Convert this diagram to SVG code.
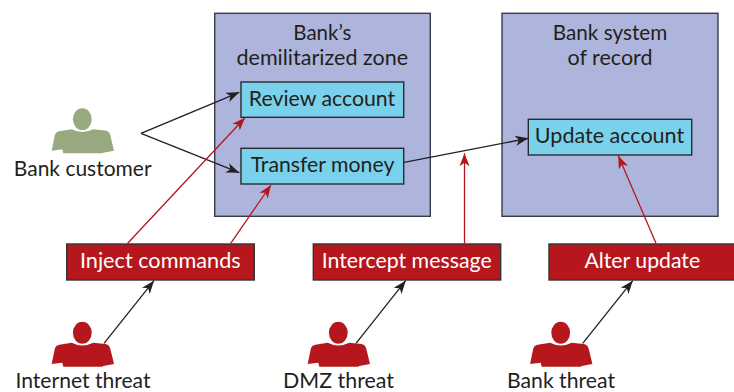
<svg xmlns="http://www.w3.org/2000/svg" width="734" height="392" viewBox="0 0 734 392">
<style>
text{font-family:Lato,"Open Sans","Liberation Sans",sans-serif;font-size:20.5px;fill:#231f20;text-anchor:middle}
.zone{fill:#aeb5dc;stroke:#3a3a48;stroke-width:1.4}
.task{fill:#7ad1ec;stroke:#2a2a30;stroke-width:1.4}
.threat{fill:#b5171d;stroke:#333;stroke-width:1.4}
.threat-label{fill:#fff}
.k{fill:none;stroke:#231f20;stroke-width:1.3}
.r{fill:none;stroke:#b5171d;stroke-width:1.3}
</style>
<defs>
<marker id="ak" markerUnits="userSpaceOnUse" viewBox="-14 -6 15 12" refX="0" refY="0" markerWidth="15" markerHeight="12" orient="auto"><path d="M0,0L-13,-5L-9.5,0L-13,5Z" fill="#231f20"/></marker>
<marker id="ar" markerUnits="userSpaceOnUse" viewBox="-14 -6 15 12" refX="0" refY="0" markerWidth="15" markerHeight="12" orient="auto"><path d="M0,0L-13,-5L-9.5,0L-13,5Z" fill="#b5171d"/></marker>
<g id="person">
<ellipse cx="0" cy="0" rx="9.4" ry="11"/>
<path d="M-30.6,31.4L-27.5,16Q-26.5,12.5-23,12L-10.6,10Q0,15.5 11,10L23,11.2Q27,12 28,16L31.7,31.4L21,33.4L20,34L-19,34L-20,30Z"/>
</g>
</defs>
<g id="zone-dmz"><rect class="zone" x="214.7" y="13.3" width="215.6" height="203"/>
<text x="322.3" y="40" textLength="58" lengthAdjust="spacingAndGlyphs">Bank’s</text>
<text x="322.3" y="65" textLength="171.7" lengthAdjust="spacingAndGlyphs">demilitarized zone</text></g>
<g id="zone-record"><rect class="zone" x="502" y="13.3" width="216" height="203"/>
<text x="610" y="40" textLength="114.7" lengthAdjust="spacingAndGlyphs">Bank system</text>
<text x="610" y="65" textLength="85" lengthAdjust="spacingAndGlyphs">of record</text></g>
<g id="review-account"><rect class="task" x="241" y="82" width="162.7" height="35.3"/>
<text x="322" y="106" textLength="146.3" lengthAdjust="spacingAndGlyphs">Review account</text></g>
<g id="transfer-money"><rect class="task" x="241" y="148.3" width="162.7" height="35.7"/>
<text x="322.5" y="171.7" textLength="143.7" lengthAdjust="spacingAndGlyphs">Transfer money</text></g>
<g id="update-account"><rect class="task" x="528.3" y="119.3" width="163.4" height="35.7"/>
<text x="609.5" y="142.7" textLength="149.3" lengthAdjust="spacingAndGlyphs">Update account</text></g>
<g id="inject-commands"><rect class="threat" x="66.7" y="244" width="187.6" height="36"/>
<text class="threat-label" x="160.3" y="267.7" textLength="160.7" lengthAdjust="spacingAndGlyphs">Inject commands</text></g>
<g id="intercept-message"><rect class="threat" x="313.3" y="244" width="187.4" height="36"/>
<text class="threat-label" x="406.7" y="267.7" textLength="170" lengthAdjust="spacingAndGlyphs">Intercept message</text></g>
<g id="alter-update"><rect class="threat" x="549" y="244" width="188" height="36"/>
<text class="threat-label" x="642.3" y="267.7" textLength="115.7" lengthAdjust="spacingAndGlyphs">Alter update</text></g>
<g id="bank-customer"><use href="#person" x="82.3" y="119.3" fill="#98a97f"/>
<text x="82.7" y="176" textLength="137.7" lengthAdjust="spacingAndGlyphs">Bank customer</text></g>
<g id="internet-threat"><use href="#person" x="82.3" y="332.7" fill="#b5171d"/>
<text x="83" y="387.5" textLength="135" lengthAdjust="spacingAndGlyphs">Internet threat</text></g>
<g id="dmz-threat"><use href="#person" x="338.3" y="332.7" fill="#b5171d"/>
<text x="338.5" y="387.5" textLength="111" lengthAdjust="spacingAndGlyphs">DMZ threat</text></g>
<g id="bank-threat"><use href="#person" x="560.7" y="332.7" fill="#b5171d"/>
<text x="561" y="387.5" textLength="108" lengthAdjust="spacingAndGlyphs">Bank threat</text></g>
<g id="connectors">
<path class="k" marker-end="url(#ak)" d="M141,133.3L239.3,92.3"/>
<path class="k" marker-end="url(#ak)" d="M141,133.3L239.3,172.7"/>
<path class="k" marker-end="url(#ak)" d="M404,162.3L528.3,138.3"/>
<path class="k" marker-end="url(#ak)" d="M104,343.3L154,280.7"/>
<path class="k" marker-end="url(#ak)" d="M356,343.3L405.7,280.7"/>
<path class="k" marker-end="url(#ak)" d="M582.7,343.3L632.7,280.7"/>
<path class="r" marker-end="url(#ar)" d="M127.7,243.3L245,117.7"/>
<path class="r" marker-end="url(#ar)" d="M230.7,243.3L271,185"/>
<path class="r" marker-end="url(#ar)" d="M464.5,243.3V153.3"/>
<path class="r" marker-end="url(#ar)" d="M656,243.3L618.3,155.7"/>
</g>
</svg>
